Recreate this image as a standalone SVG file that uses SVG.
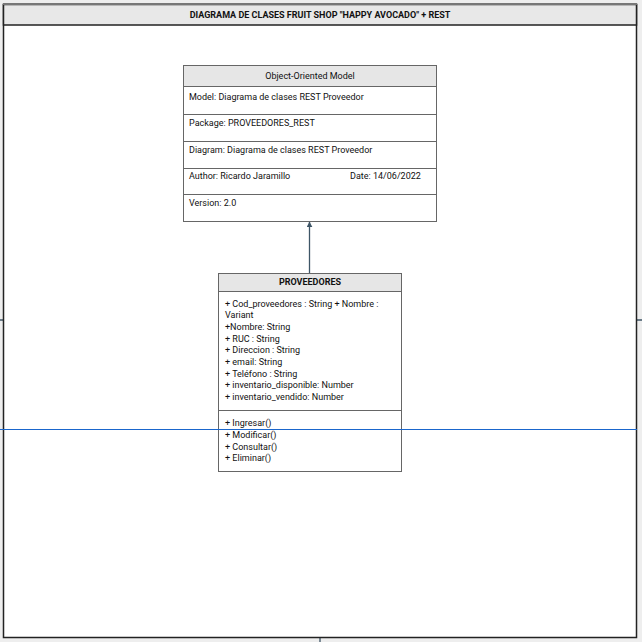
<svg xmlns="http://www.w3.org/2000/svg" width="642" height="642" viewBox="0 0 642 642">
  <style>
    .t { font-family: Roboto, "Liberation Sans", Arial, sans-serif; font-size: 9px; fill: #111; }
    .b { font-weight: bold; }
    .box { fill: #fff; stroke: #666; stroke-width: 1; }
    .hdr { fill: #e6e6e6; stroke: #666; stroke-width: 1; }
    .sep { stroke: #666; stroke-width: 1; }
    .conn { stroke: #3e5566; stroke-width: 1.3; fill: none; }
  </style>
  <defs>
    <marker id="arrow" viewBox="0 0 10 10" refX="9" refY="5" markerWidth="6" markerHeight="6" orient="auto" markerUnits="userSpaceOnUse">
      <path d="M0,0 L10,5 L0,10 z" fill="#3e5566"/>
    </marker>
  </defs>

  <!-- page background -->
  <rect x="0" y="0" width="642" height="642" fill="#eeeeee"/>

  <!-- connectors -->
  <g id="connectors">
    <line class="conn" x1="0" y1="320" x2="642" y2="320"/>
    <line class="conn" x1="320" y1="600" x2="320" y2="642"/>
  </g>

  <!-- frame -->
  <g id="frame">
    <rect x="3.5" y="4.5" width="633" height="633" fill="#fff" stroke="#222" stroke-width="1.5"/>
    <rect x="3.5" y="4.5" width="633" height="20.5" fill="#e8e8e8" stroke="#222" stroke-width="1.5"/>
    <line x1="3" y1="4" x2="637" y2="4" stroke="#777" stroke-width="2"/>
    <text class="t b" x="320" y="18" text-anchor="middle">DIAGRAMA DE CLASES FRUIT SHOP "HAPPY AVOCADO" + REST</text>
  </g>

  <!-- model info block -->
  <g id="model">
    <rect class="box" x="183.5" y="65.5" width="253" height="156"/>
    <rect class="hdr" x="183.5" y="65.5" width="253" height="21"/>
    <line class="sep" x1="183.5" y1="114.5" x2="436.5" y2="114.5"/>
    <line class="sep" x1="183.5" y1="141.5" x2="436.5" y2="141.5"/>
    <line class="sep" x1="183.5" y1="168.5" x2="436.5" y2="168.5"/>
    <line class="sep" x1="183.5" y1="194.5" x2="436.5" y2="194.5"/>
    <text class="t" x="310" y="79" text-anchor="middle">Object-Oriented Model</text>
    <text class="t" x="189" y="100">Model: Diagrama de clases REST Proveedor</text>
    <text class="t" x="189" y="126">Package: PROVEEDORES_REST</text>
    <text class="t" x="189" y="153">Diagram: Diagrama de clases REST Proveedor</text>
    <text class="t" x="189" y="179">Author: Ricardo Jaramillo</text>
    <text class="t" x="350" y="179">Date: 14/06/2022</text>
    <text class="t" x="189" y="206">Version: 2.0</text>
  </g>

  <!-- inheritance link -->
  <g id="links">
    <line class="conn" x1="309.5" y1="273" x2="309.5" y2="222" marker-end="url(#arrow)"/>
  </g>

  <!-- PROVEEDORES class -->
  <g id="proveedores">
    <rect class="box" x="218.5" y="273.5" width="183" height="198"/>
    <rect class="hdr" x="218.5" y="273.5" width="183" height="18"/>
    <line class="sep" x1="218.5" y1="410.5" x2="401.5" y2="410.5"/>
    <text class="t b" x="310" y="285" text-anchor="middle">PROVEEDORES</text>
    <text class="t" x="225" y="306.5">+ Cod_proveedores : String + Nombre :</text>
    <text class="t" x="225" y="318">Variant</text>
    <text class="t" x="225" y="330">+Nombre: String</text>
    <text class="t" x="225" y="341.5">+ RUC : String</text>
    <text class="t" x="225" y="353">+ Direccion : String</text>
    <text class="t" x="225" y="365">+ email: String</text>
    <text class="t" x="225" y="376.5">+ Teléfono : String</text>
    <text class="t" x="225" y="388">+ inventario_disponible: Number</text>
    <text class="t" x="225" y="400">+ inventario_vendido: Number</text>
    <text class="t" x="225" y="426">+ Ingresar()</text>
    <text class="t" x="225" y="438">+ Modificar()</text>
    <text class="t" x="225" y="449.5">+ Consultar()</text>
    <text class="t" x="225" y="461">+ Eliminar()</text>
  </g>

  <!-- guide line -->
  <line x1="0" y1="429.5" x2="637" y2="429.5" stroke="#1a66cc" stroke-width="1"/>
</svg>
